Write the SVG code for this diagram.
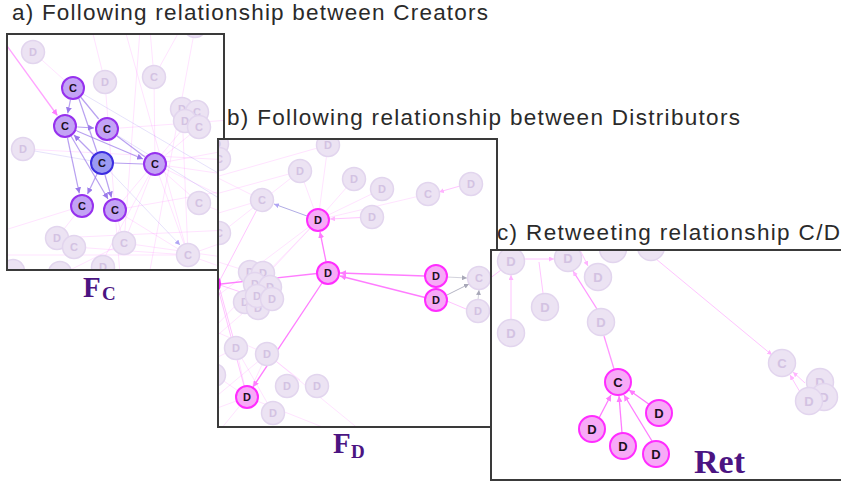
<svg xmlns="http://www.w3.org/2000/svg" width="841" height="486" viewBox="0 0 841 486">
<defs>
<style>
.title{font-family:"Liberation Sans",Arial,sans-serif;font-size:22.5px;fill:#2a2a2a}
.sub{font-family:"Liberation Serif","Times New Roman",serif;font-weight:bold;fill:#4b1482}
.frame{fill:none;stroke:#3a3a3a;stroke-width:2}
.bg{fill:#fff}
.fn circle{fill:#ece3f3;stroke:#e2d5ee;stroke-width:1.5}
.fn text{fill:#d3c2e2}
.cn circle{fill:#c3a3f5;stroke:#9630ee;stroke-width:2}
.bn circle{fill:#9b9bf3;stroke:#3c2de0;stroke-width:2}
.pn circle{fill:#f7aaf7;stroke:#ff2cff;stroke-width:2}
.cn text,.bn text,.pn text{fill:#1a1020}
.n text{font-family:"Liberation Sans",Arial,sans-serif;font-weight:bold;font-size:11px;text-anchor:middle}
.big text{font-size:13px}
.ef{stroke:#ff80ff;stroke-opacity:0.22;stroke-width:1;fill:none}
.efb{stroke:#9a8cf0;stroke-opacity:0.25;stroke-width:1;fill:none}
.ep{stroke:#9a78ea;stroke-opacity:0.7;stroke-width:1.2;fill:none}
.ek{stroke:#ff7cff;stroke-width:1.3;fill:none}
.ekl{stroke:#ff9cff;stroke-opacity:0.6;stroke-width:1;fill:none}
.eg{stroke:#b4b4c4;stroke-width:1;fill:none}
</style>
<marker id="mp" markerWidth="6" markerHeight="6" refX="6" refY="3" orient="auto" markerUnits="userSpaceOnUse"><path d="M0,0 L6,3 L0,6 z" fill="#9a78ea"/></marker>
<marker id="mk" markerWidth="6" markerHeight="6" refX="6" refY="3" orient="auto" markerUnits="userSpaceOnUse"><path d="M0,0 L6,3 L0,6 z" fill="#ff7cff"/></marker>
<marker id="mkl" markerWidth="5" markerHeight="5" refX="5" refY="2.5" orient="auto" markerUnits="userSpaceOnUse"><path d="M0,0 L5,2.5 L0,5 z" fill="#ffb4ff"/></marker>
<marker id="mg" markerWidth="5" markerHeight="5" refX="5" refY="2.5" orient="auto" markerUnits="userSpaceOnUse"><path d="M0,0 L5,2.5 L0,5 z" fill="#a8a8b8"/></marker>
<marker id="mb" markerWidth="5" markerHeight="5" refX="5" refY="2.5" orient="auto" markerUnits="userSpaceOnUse"><path d="M0,0 L5,2.5 L0,5 z" fill="#b0a4f4"/></marker>
<clipPath id="clipA"><rect x="7" y="34" width="217" height="236"/></clipPath>
<clipPath id="clipB"><rect x="218" y="139" width="279" height="288"/></clipPath>
<clipPath id="clipC"><rect x="491" y="250" width="360" height="230"/></clipPath>
</defs>

<rect width="841" height="486" fill="#fff"/>

<text class="title" x="12" y="20" textLength="476">a) Following relationship between Creators</text>

<!-- Panel A -->
<g id="panel-a">
<rect class="bg" x="7" y="34" width="217" height="236"/>
<g clip-path="url(#clipA)">
<g id="connectors-a">
<line class="ef" x1="155" y1="164" x2="230" y2="150"/>
<line class="ef" x1="155" y1="164" x2="230" y2="175"/>
<line class="ef" x1="155" y1="164" x2="230" y2="200"/>
<line class="ef" x1="155" y1="164" x2="188" y2="255"/>
<line class="ef" x1="155" y1="164" x2="124" y2="243"/>
<line class="ef" x1="155" y1="164" x2="199" y2="127"/>
<line class="ef" x1="155" y1="164" x2="154" y2="77"/>
<line class="ef" x1="155" y1="164" x2="95" y2="275"/>
<line class="ef" x1="155" y1="164" x2="199" y2="203"/>
<line class="ef" x1="115" y1="210" x2="188" y2="255"/>
<line class="ef" x1="115" y1="210" x2="124" y2="243"/>
<line class="ef" x1="115" y1="210" x2="230" y2="190"/>
<line class="ef" x1="82" y1="206" x2="57" y2="238"/>
<line class="ef" x1="82" y1="206" x2="5" y2="230"/>
<line class="ef" x1="154" y1="77" x2="150" y2="30"/>
<line class="ef" x1="154" y1="77" x2="180" y2="30"/>
<line class="ef" x1="105" y1="82" x2="92" y2="30"/>
<line class="ef" x1="105" y1="82" x2="120" y2="275"/>
<line class="ef" x1="33" y1="52" x2="73" y2="88"/>
<line class="ef" x1="23" y1="149" x2="230" y2="160"/>
<line class="ef" x1="188" y1="255" x2="230" y2="240"/>
<line class="ef" x1="124" y1="243" x2="230" y2="258"/>
<line class="ef" x1="5" y1="255" x2="188" y2="255"/>
<line class="ef" x1="199" y1="203" x2="230" y2="215"/>
<line class="ef" x1="140" y1="30" x2="124" y2="243"/>
<line class="ef" x1="125" y1="30" x2="188" y2="255"/>
<line class="ef" x1="195" y1="28" x2="150" y2="270"/>
<line class="ef" x1="182" y1="109" x2="188" y2="255"/>
<line class="ef" x1="197" y1="112" x2="115" y2="210"/>
<line class="ef" x1="230" y1="120" x2="107" y2="129"/>
<line class="ef" x1="57" y1="238" x2="230" y2="230"/>
<line class="ef" x1="74" y1="247" x2="188" y2="255"/>
<line class="ef" x1="124" y1="243" x2="60" y2="275"/>
<line class="ef" x1="188" y1="255" x2="230" y2="270"/>
<line class="efb" x1="102" y1="163" x2="180" y2="245" marker-end="url(#mb)"/>
<line class="efb" x1="107" y1="129" x2="230" y2="205"/>
<line class="efb" x1="23" y1="149" x2="92" y2="161"/>
<line class="efb" x1="73" y1="88" x2="230" y2="180"/>
<line class="ek" x1="7" y1="46" x2="57.4" y2="115.5" marker-end="url(#mk)" stroke-opacity="0.7"/>
<line class="ep" x1="70.5" y1="99.7" x2="67.7" y2="113.3" marker-end="url(#mp)"/>
<line class="ep" x1="78" y1="127" x2="94" y2="128" marker-start="url(#mp)" marker-end="url(#mp)"/>
<line class="ep" x1="77" y1="131" x2="143" y2="159" marker-start="url(#mp)" marker-end="url(#mp)"/>
<line class="ep" x1="94" y1="155" x2="74" y2="135" marker-end="url(#mp)"/>
<line class="ep" x1="67.5" y1="138" x2="79.3" y2="193.3" marker-end="url(#mp)"/>
<line class="ep" x1="71" y1="136" x2="108" y2="199" marker-end="url(#mp)"/>
<line class="ep" x1="97" y1="174" x2="87.5" y2="194" marker-end="url(#mp)"/>
<line class="ep" x1="105" y1="175" x2="111.5" y2="197.5" marker-end="url(#mp)"/>
<line class="ep" x1="80.6" y1="97" x2="98.7" y2="119" stroke-opacity="0.4"/>
<line class="ep" x1="78" y1="96" x2="97" y2="152" stroke-opacity="0.35"/>
<line class="ep" x1="114" y1="163" x2="143" y2="164" stroke-opacity="0.4"/>
<line class="ep" x1="117" y1="136" x2="145" y2="157" stroke-opacity="0.35"/>
</g>
<g id="a-f1" class="n fn"><circle cx="33" cy="52" r="11.5"/><text x="33" y="56">D</text></g>
<g id="a-f2" class="n fn"><circle cx="105" cy="82" r="11.5"/><text x="105" y="86">D</text></g>
<g id="a-f3" class="n fn"><circle cx="154" cy="77" r="11.5"/><text x="154" y="81">C</text></g>
<g id="a-f4" class="n fn"><circle cx="182" cy="109" r="11.5"/><text x="182" y="113">D</text></g>
<g id="a-f5" class="n fn"><circle cx="197" cy="112" r="11.5"/><text x="197" y="116">C</text></g>
<g id="a-f6" class="n fn"><circle cx="185" cy="121" r="11.5"/><text x="185" y="125">D</text></g>
<g id="a-f7" class="n fn"><circle cx="199" cy="127" r="11.5"/><text x="199" y="131">C</text></g>
<g id="a-f8" class="n fn"><circle cx="23" cy="149" r="11.5"/><text x="23" y="153">D</text></g>
<g id="a-f9" class="n fn"><circle cx="199" cy="203" r="11.5"/><text x="199" y="207">C</text></g>
<g id="a-f10" class="n fn"><circle cx="57" cy="238" r="11.5"/><text x="57" y="242">D</text></g>
<g id="a-f11" class="n fn"><circle cx="74" cy="247" r="11.5"/><text x="74" y="251">C</text></g>
<g id="a-f12" class="n fn"><circle cx="124" cy="243" r="11.5"/><text x="124" y="247">C</text></g>
<g id="a-f13" class="n fn"><circle cx="188" cy="255" r="11.5"/><text x="188" y="259">C</text></g>
<g id="a-f14" class="n fn"><circle cx="195" cy="26" r="11.5"/></g>
<g id="a-f15" class="n fn"><circle cx="13" cy="271" r="11.5"/></g>
<g id="a-f16" class="n fn"><circle cx="60" cy="273" r="11.5"/></g>
<g id="a-f17" class="n fn"><circle cx="103" cy="267" r="11.5"/><text x="103" y="271">D</text></g>
<g id="a-c1" class="n cn"><circle cx="73" cy="88" r="11"/><text x="73" y="92">C</text></g>
<g id="a-c2" class="n cn"><circle cx="65" cy="126" r="11"/><text x="65" y="130">C</text></g>
<g id="a-c3" class="n cn"><circle cx="107" cy="129" r="11"/><text x="107" y="133">C</text></g>
<g id="a-c4" class="n bn"><circle cx="102" cy="163" r="11"/><text x="102" y="167">C</text></g>
<g id="a-c5" class="n cn"><circle cx="155" cy="164" r="11"/><text x="155" y="168">C</text></g>
<g id="a-c6" class="n cn"><circle cx="82" cy="206" r="11"/><text x="82" y="210">C</text></g>
<g id="a-c7" class="n cn"><circle cx="115" cy="210" r="11"/><text x="115" y="214">C</text></g>
</g>
<rect class="frame" x="7" y="34" width="217" height="236"/>
</g>
<text class="sub" x="83" y="297" font-size="29">F</text>
<text class="sub" x="102" y="300" font-size="19">C</text>

<text class="title" x="227" y="125" textLength="513">b) Following relationship between Distributors</text>

<!-- Panel B -->
<g id="panel-b">
<rect class="bg" x="218" y="139" width="279" height="288"/>
<g clip-path="url(#clipB)">
<g id="connectors-b">
<line class="ef" x1="300" y1="171" x2="318" y2="220"/>
<line class="ef" x1="354" y1="179" x2="318" y2="220"/>
<line class="ef" x1="382" y1="189" x2="318" y2="220"/>
<line class="ef" x1="328" y1="145" x2="318" y2="220"/>
<line class="ef" x1="428" y1="194" x2="318" y2="220"/>
<line class="ekl" x1="372" y1="217" x2="330" y2="219" marker-end="url(#mkl)"/>
<line class="ekl" x1="460" y1="186" x2="439" y2="192" marker-end="url(#mkl)"/>
<line class="ef" x1="262" y1="200" x2="212" y2="175"/>
<line class="ef" x1="262" y1="200" x2="212" y2="215"/>
<line class="ef" x1="300" y1="171" x2="212" y2="195"/>
<line class="ef" x1="328" y1="145" x2="212" y2="178"/>
<line class="ef" x1="300" y1="171" x2="212" y2="240"/>
<line class="ef" x1="318" y1="220" x2="212" y2="300"/>
<line class="ef" x1="318" y1="220" x2="262" y2="280"/>
<line class="ef" x1="318" y1="220" x2="212" y2="330"/>
<line class="ef" x1="236" y1="348" x2="247" y2="397"/>
<line class="ef" x1="267" y1="354" x2="247" y2="397"/>
<line class="ef" x1="236" y1="348" x2="212" y2="360"/>
<line class="ef" x1="215" y1="375" x2="247" y2="397"/>
<line class="ef" x1="247" y1="397" x2="212" y2="410"/>
<line class="ef" x1="267" y1="354" x2="360" y2="430"/>
<line class="ef" x1="267" y1="354" x2="212" y2="400"/>
<line class="ef" x1="212" y1="330" x2="267" y2="354"/>
<line class="ef" x1="236" y1="348" x2="273" y2="413"/>
<line class="ef" x1="247" y1="397" x2="212" y2="440"/>
<line class="ef" x1="258" y1="300" x2="212" y2="340"/>
<line class="ef" x1="250" y1="272" x2="212" y2="260"/>
<line class="ef" x1="267" y1="354" x2="300" y2="380"/>
<line class="ef" x1="247" y1="397" x2="330" y2="430"/>
<line class="ekl" x1="258" y1="298" x2="220" y2="285"/>
<line class="ekl" x1="236" y1="348" x2="220" y2="290"/>
<line class="ekl" x1="247" y1="397" x2="219" y2="292"/>
<line class="ekl" x1="262" y1="200" x2="220" y2="280"/>
<line class="ek" x1="317" y1="273.5" x2="221" y2="284"/>
<line class="ek" x1="326" y1="261.5" x2="320" y2="232" marker-end="url(#mk)"/>
<line class="ek" x1="425" y1="276" x2="340" y2="273" marker-end="url(#mk)"/>
<line class="ek" x1="425" y1="297.5" x2="340" y2="276" marker-end="url(#mk)"/>
<line class="ek" x1="322" y1="283" x2="253" y2="387" marker-end="url(#mk)"/>
<line x1="307" y1="216" x2="274" y2="204" stroke="#8f88d8" stroke-opacity="0.7" stroke-width="1" marker-end="url(#mb)"/>
<line class="eg" x1="447" y1="277" x2="467" y2="278" marker-end="url(#mg)" stroke-opacity="0.6"/>
<line class="eg" x1="447" y1="295" x2="469" y2="284" marker-end="url(#mg)"/>
<line class="eg" x1="478" y1="300" x2="479" y2="290" marker-end="url(#mg)" stroke-opacity="0.6"/>
<line class="ekl" x1="466" y1="309" x2="447" y2="301"/>
</g>
<g id="b-f1" class="n fn"><circle cx="328" cy="145" r="11.5"/><text x="328" y="149">D</text></g>
<g id="b-f2" class="n fn"><circle cx="300" cy="171" r="11.5"/><text x="300" y="175">D</text></g>
<g id="b-f3" class="n fn"><circle cx="262" cy="200" r="11.5"/><text x="262" y="204">C</text></g>
<g id="b-f4" class="n fn"><circle cx="354" cy="179" r="11.5"/><text x="354" y="183">D</text></g>
<g id="b-f5" class="n fn"><circle cx="382" cy="189" r="11.5"/><text x="382" y="193">D</text></g>
<g id="b-f6" class="n fn"><circle cx="428" cy="194" r="11.5"/><text x="428" y="198">C</text></g>
<g id="b-f7" class="n fn"><circle cx="471" cy="184" r="11.5"/><text x="471" y="188">D</text></g>
<g id="b-f8" class="n fn"><circle cx="372" cy="217" r="11.5"/><text x="372" y="221">D</text></g>
<g id="b-f9" class="n fn"><circle cx="217" cy="144" r="11.5"/><text x="217" y="148">D</text></g>
<g id="b-f10" class="n fn"><circle cx="219" cy="159" r="11.5"/><text x="219" y="163">C</text></g>
<g id="b-f11" class="n fn"><circle cx="219" cy="233" r="11.5"/><text x="219" y="237">C</text></g>
<g id="b-f12" class="n fn"><circle cx="250" cy="272" r="11.5"/><text x="250" y="276">D</text></g>
<g id="b-f13" class="n fn"><circle cx="263" cy="273" r="11.5"/><text x="263" y="277">D</text></g>
<g id="b-f14" class="n fn"><circle cx="255" cy="284" r="11.5"/><text x="255" y="288">D</text></g>
<g id="b-f15" class="n fn"><circle cx="270" cy="287" r="11.5"/><text x="270" y="291">D</text></g>
<g id="b-f16" class="n fn"><circle cx="245" cy="302" r="11.5"/><text x="245" y="306">D</text></g>
<g id="b-f17" class="n fn"><circle cx="258" cy="308" r="11.5"/><text x="258" y="312">D</text></g>
<g id="b-f18" class="n fn"><circle cx="257" cy="296" r="11.5"/><text x="257" y="300">D</text></g>
<g id="b-f19" class="n fn"><circle cx="272" cy="299" r="11.5"/><text x="272" y="303">D</text></g>
<g id="b-f20" class="n fn"><circle cx="479" cy="278" r="11.5"/><text x="479" y="282">C</text></g>
<g id="b-f21" class="n fn"><circle cx="478" cy="311" r="11.5"/><text x="478" y="315">D</text></g>
<g id="b-f22" class="n fn"><circle cx="236" cy="348" r="11.5"/><text x="236" y="352">D</text></g>
<g id="b-f23" class="n fn"><circle cx="267" cy="354" r="11.5"/><text x="267" y="358">D</text></g>
<g id="b-f24" class="n fn"><circle cx="214" cy="375" r="11.5"/></g>
<g id="b-f25" class="n fn"><circle cx="287" cy="386" r="11.5"/><text x="287" y="390">D</text></g>
<g id="b-f26" class="n fn"><circle cx="317" cy="386" r="11.5"/><text x="317" y="390">D</text></g>
<g id="b-f27" class="n fn"><circle cx="273" cy="413" r="11.5"/><text x="273" y="417">D</text></g>
<g id="b-d0" class="n pn"><circle cx="209" cy="284" r="11"/></g>
<g id="b-d1" class="n pn"><circle cx="318" cy="220" r="11"/><text x="318" y="224">D</text></g>
<g id="b-d2" class="n pn"><circle cx="328" cy="273" r="11"/><text x="328" y="277">D</text></g>
<g id="b-d3" class="n pn"><circle cx="436" cy="276" r="11"/><text x="436" y="280">D</text></g>
<g id="b-d4" class="n pn"><circle cx="436" cy="300" r="11"/><text x="436" y="304">D</text></g>
<g id="b-d5" class="n pn"><circle cx="247" cy="397" r="11"/><text x="247" y="401">D</text></g>
</g>
<rect class="frame" x="218" y="139" width="279" height="288"/>
</g>
<text class="sub" x="333" y="453" font-size="29">F</text>
<text class="sub" x="351" y="458" font-size="19">D</text>

<text class="title" x="497" y="240" textLength="343">c) Retweeting relationship C/D</text>

<!-- Panel C -->
<g id="panel-c">
<rect class="bg" x="491" y="250" width="360" height="230"/>
<g clip-path="url(#clipC)">
<g id="connectors-c">
<line class="ekl" x1="524" y1="259" x2="554" y2="259" marker-start="url(#mkl)" marker-end="url(#mkl)"/>
<line class="ekl" x1="511" y1="320" x2="511" y2="275" marker-end="url(#mkl)"/>
<line class="ekl" x1="539" y1="262" x2="543" y2="293"/>
<line class="ekl" x1="489" y1="279" x2="501" y2="270"/>
<line class="ekl" x1="580" y1="250" x2="588" y2="266" marker-end="url(#mkl)"/>
<line class="ekl" x1="650" y1="254" x2="772" y2="355" marker-end="url(#mkl)"/>
<line class="ekl" x1="805" y1="383" x2="793" y2="372" marker-end="url(#mkl)"/>
<line class="ekl" x1="800" y1="392" x2="790" y2="375" marker-end="url(#mkl)"/>
<line class="ek" x1="614" y1="369" x2="604" y2="336" stroke-opacity="0.8"/>
<line class="ek" x1="597" y1="309" x2="573" y2="271" marker-end="url(#mkl)" stroke-opacity="0.8"/>
<line class="ek" x1="599" y1="418" x2="611" y2="395" marker-end="url(#mk)"/>
<line class="ek" x1="622" y1="433" x2="619" y2="396" marker-end="url(#mk)"/>
<line class="ek" x1="652" y1="441" x2="624" y2="395" marker-end="url(#mk)"/>
<line class="ek" x1="650" y1="405" x2="629" y2="390" marker-end="url(#mk)"/>
</g>
<g class="big">
<g id="c-f1" class="n fn"><circle cx="511" cy="261" r="13.5"/><text x="511" y="266">D</text></g>
<g id="c-f2" class="n fn"><circle cx="568" cy="258" r="13.5"/><text x="568" y="263">D</text></g>
<g id="c-f3" class="n fn"><circle cx="613" cy="249" r="13.5"/></g>
<g id="c-f4" class="n fn"><circle cx="651" cy="247" r="13.5"/></g>
<g id="c-f5" class="n fn"><circle cx="598" cy="277" r="13.5"/><text x="598" y="282">D</text></g>
<g id="c-f6" class="n fn"><circle cx="545" cy="307" r="13.5"/><text x="545" y="312">D</text></g>
<g id="c-f7" class="n fn"><circle cx="511" cy="333" r="13.5"/><text x="511" y="338">D</text></g>
<g id="c-f8" class="n fn"><circle cx="601" cy="322" r="13.5"/><text x="601" y="327">D</text></g>
<g id="c-f9" class="n fn"><circle cx="782" cy="363" r="13.5"/><text x="782" y="368">C</text></g>
<g id="c-f10" class="n fn"><circle cx="820" cy="382" r="13.5"/><text x="820" y="387">D</text></g>
<g id="c-f11" class="n fn"><circle cx="824" cy="397" r="13.5"/><text x="824" y="402">D</text></g>
<g id="c-f12" class="n fn"><circle cx="809" cy="401" r="13.5"/><text x="809" y="406">D</text></g>
<g id="c-c1" class="n pn"><circle cx="618" cy="382" r="13"/><text x="618" y="387">C</text></g>
<g id="c-d1" class="n pn"><circle cx="592" cy="429" r="13"/><text x="592" y="434">D</text></g>
<g id="c-d2" class="n pn"><circle cx="623" cy="446" r="13"/><text x="623" y="451">D</text></g>
<g id="c-d3" class="n pn"><circle cx="659" cy="413" r="13"/><text x="659" y="418">D</text></g>
<g id="c-d4" class="n pn"><circle cx="656" cy="454" r="13"/><text x="656" y="459">D</text></g>
</g>
</g>
<rect class="frame" x="491" y="250" width="360" height="230"/>
</g>
<text class="sub" x="694" y="473" font-size="34">Ret</text>
</svg>
